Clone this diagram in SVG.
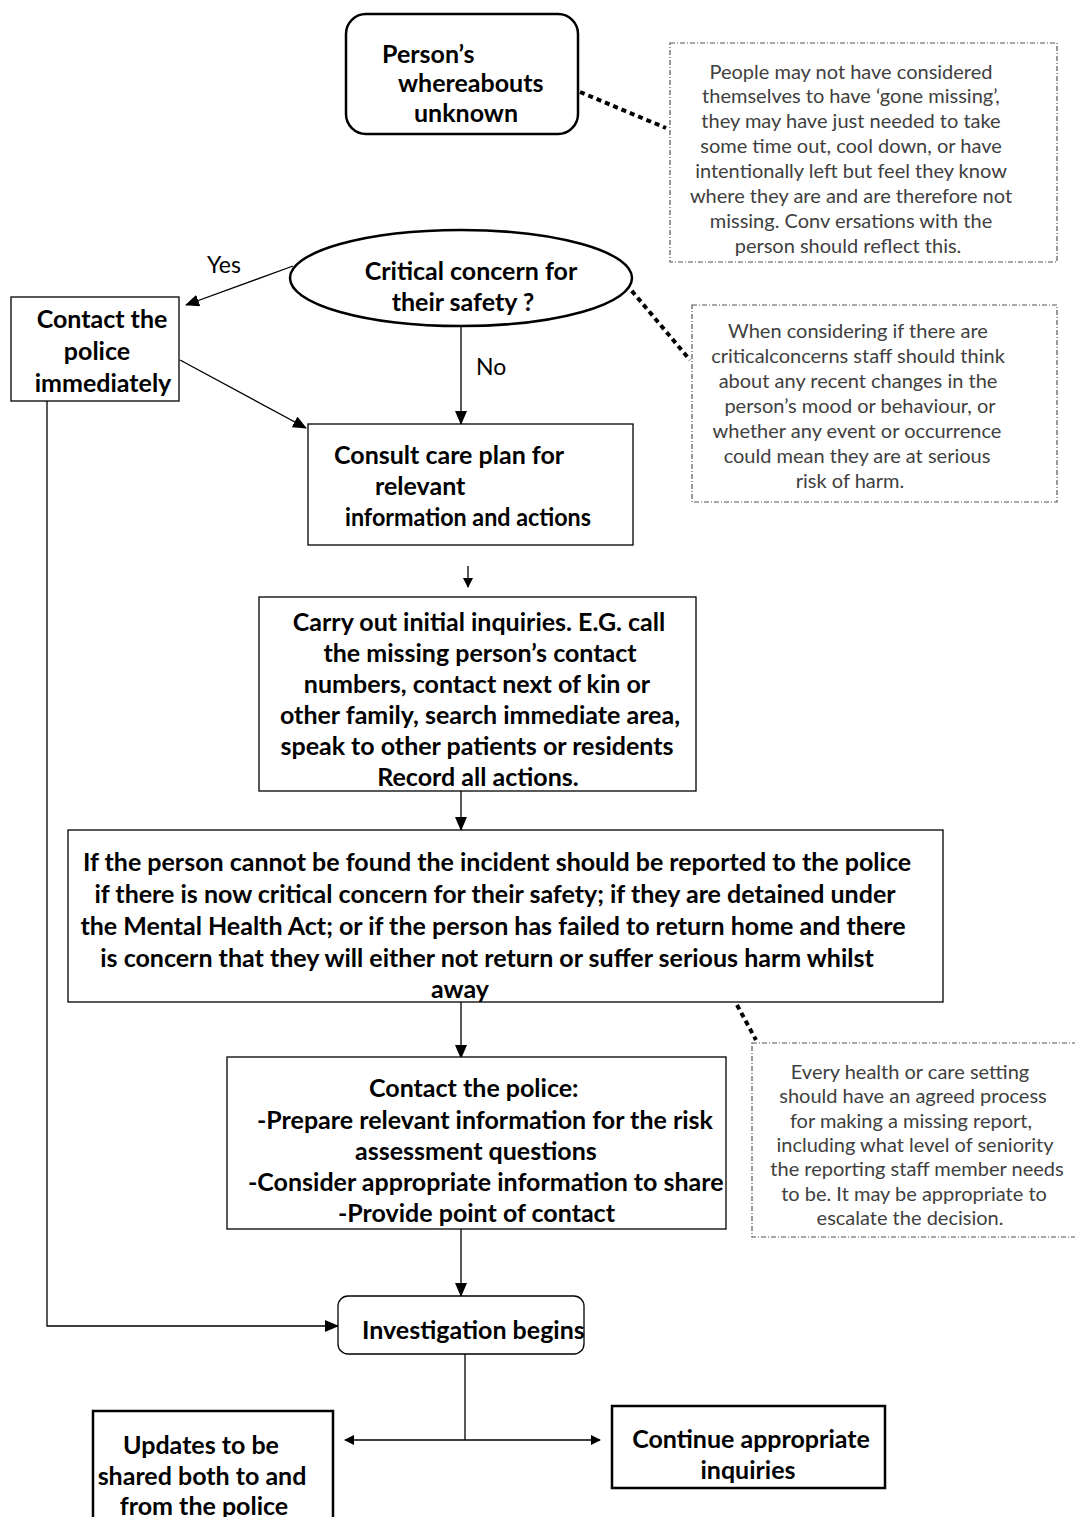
<svg xmlns="http://www.w3.org/2000/svg" width="1075" height="1517" viewBox="0 0 1075 1517">
<defs>
<marker id="ah" markerWidth="14" markerHeight="12" refX="13" refY="6" orient="auto" markerUnits="userSpaceOnUse">
<path d="M0,0 L14,6 L0,12 Z" fill="#000"/>
</marker>
<marker id="ahs" markerWidth="10" markerHeight="10" refX="9" refY="5" orient="auto" markerUnits="userSpaceOnUse">
<path d="M0,0 L10,5 L0,10 Z" fill="#000"/>
</marker>
<marker id="ahsr" markerWidth="10" markerHeight="10" refX="1" refY="5" orient="auto" markerUnits="userSpaceOnUse">
<path d="M10,0 L0,5 L10,10 Z" fill="#000"/>
</marker>
<style>
.b{font-family:Lato,"Liberation Sans",sans-serif;font-weight:bold;font-size:25px;fill:#000}
.n{font-family:Lato,"Liberation Sans",sans-serif;font-size:20px;fill:#404040;text-anchor:middle}
.l{font-family:Lato,"Liberation Sans",sans-serif;font-size:23px;fill:#000}
.box{fill:#fff;stroke:#000;stroke-width:1.3}
.thick{fill:#fff;stroke:#000;stroke-width:2.5}
.note{fill:#fff;stroke:#555;stroke-width:1.2;stroke-dasharray:5 2 1 2}
.c{fill:none;stroke:#000;stroke-width:1.3}
.dot{fill:none;stroke:#000;stroke-width:4;stroke-dasharray:5 4}
.m{text-anchor:middle}
</style>
</defs>

<g id="connectors">
<line class="c" x1="293" y1="266" x2="186" y2="305" marker-end="url(#ah)"/>
<line class="c" x1="180" y1="360" x2="306" y2="428" marker-end="url(#ah)"/>
<line class="c" x1="461" y1="326" x2="461" y2="424" marker-end="url(#ah)"/>
<line class="c" x1="468" y1="566" x2="468" y2="587" marker-end="url(#ahs)"/>
<line class="c" x1="461" y1="791" x2="461" y2="830" marker-end="url(#ah)"/>
<line class="c" x1="461" y1="1002" x2="461" y2="1058" marker-end="url(#ah)"/>
<line class="c" x1="461" y1="1229" x2="461" y2="1296" marker-end="url(#ah)"/>
<polyline class="c" points="47,401 47,1326 338,1326" marker-end="url(#ah)"/>
<line class="c" x1="465" y1="1354" x2="465" y2="1440"/>
<line class="c" x1="345" y1="1440" x2="600" y2="1440" marker-start="url(#ahsr)" marker-end="url(#ahs)"/>
<line class="dot" x1="580" y1="92" x2="666" y2="128"/>
<line class="dot" x1="626" y1="284" x2="690" y2="360"/>
<line class="dot" x1="737" y1="1005" x2="756" y2="1040"/>
</g>

<g id="start">
<rect class="thick" x="346" y="14" width="232" height="120" rx="20"/>
<text class="b" x="382" y="63">Person’s</text>
<text class="b" x="398" y="92">whereabouts</text>
<text class="b" x="414" y="122">unknown</text>
</g>

<g id="note1">
<rect class="note" x="670" y="43" width="387" height="219"/>
<text class="n" x="851" y="79">People may not have considered</text>
<text class="n" x="851" y="103">themselves to have ‘gone missing’,</text>
<text class="n" x="851" y="128">they may have just needed to take</text>
<text class="n" x="851" y="153">some time out, cool down, or have</text>
<text class="n" x="851" y="178">intentionally left but feel they know</text>
<text class="n" x="851" y="203">where they are and are therefore not</text>
<text class="n" x="851" y="228">missing. Conv ersations with the</text>
<text class="n" x="848" y="253">person should reflect this.</text>
</g>

<g id="decision">
<ellipse fill="#fff" stroke="#000" stroke-width="2.5" cx="461" cy="278" rx="171" ry="48"/>
<text class="b m" x="471" y="280">Critical concern for</text>
<text class="b m" x="463" y="311">their safety ?</text>
</g>

<text class="l" x="207" y="273">Yes</text>
<text class="l" x="476" y="375">No</text>

<g id="police-now">
<rect class="box" x="11" y="297" width="168" height="104"/>
<text class="b m" x="102" y="328">Contact the</text>
<text class="b m" x="97" y="360">police</text>
<text class="b m" x="103" y="392">immediately</text>
</g>

<g id="note2">
<rect class="note" x="692" y="305" width="365" height="197"/>
<text class="n" x="858" y="338">When considering if there are</text>
<text class="n" x="858" y="363">criticalconcerns staff should think</text>
<text class="n" x="858" y="388">about any recent changes in the</text>
<text class="n" x="860" y="413">person’s mood or behaviour, or</text>
<text class="n" x="857" y="438">whether any event or occurrence</text>
<text class="n" x="857" y="463">could mean they are at serious</text>
<text class="n" x="850" y="488">risk of harm.</text>
</g>

<g id="consult">
<rect class="box" x="308" y="424" width="325" height="121"/>
<text class="b" x="334" y="464">Consult care plan for</text>
<text class="b" x="375" y="495">relevant</text>
<text class="b" x="345" y="526" textLength="246" lengthAdjust="spacingAndGlyphs">information and actions</text>
</g>

<g id="inquiries">
<rect class="box" x="259" y="597" width="437" height="194"/>
<text class="b m" x="479" y="631">Carry out initial inquiries. E.G. call</text>
<text class="b m" x="480" y="662">the missing person’s contact</text>
<text class="b m" x="477" y="693">numbers, contact next of kin or</text>
<text class="b m" x="480" y="724">other family, search immediate area,</text>
<text class="b m" x="477" y="755">speak to other patients or residents</text>
<text class="b m" x="478" y="786">Record all actions.</text>
</g>

<g id="report">
<rect class="box" x="68" y="830" width="875" height="172"/>
<text class="b m" x="497" y="871">If the person cannot be found the incident should be reported to the police</text>
<text class="b m" x="495" y="903">if there is now critical concern for their safety; if they are detained under</text>
<text class="b m" x="493" y="935">the Mental Health Act; or if the person has failed to return home and there</text>
<text class="b m" x="487" y="967">is concern that they will either not return or suffer serious harm whilst</text>
<text class="b m" x="460" y="998">away</text>
</g>

<g id="note3">
<rect class="note" x="752" y="1043" width="330" height="194"/>
<text class="n" x="910" y="1079">Every health or care setting</text>
<text class="n" x="913" y="1103">should have an agreed process</text>
<text class="n" x="911" y="1128">for making a missing report,</text>
<text class="n" x="915" y="1152">including what level of seniority</text>
<text class="n" x="917" y="1176">the reporting staff member needs</text>
<text class="n" x="914" y="1201">to be. It may be appropriate to</text>
<text class="n" x="910" y="1225">escalate the decision.</text>
</g>

<g id="contact-police">
<rect class="box" x="227" y="1057" width="499" height="172"/>
<text class="b" x="369" y="1097">Contact the police:</text>
<text class="b" x="257" y="1129">-Prepare relevant information for the risk</text>
<text class="b" x="355" y="1160">assessment questions</text>
<text class="b" x="248" y="1191">-Consider appropriate information to share</text>
<text class="b" x="338" y="1222">-Provide point of contact</text>
</g>

<g id="investigation">
<rect class="box" x="338" y="1296" width="246" height="58" rx="10"/>
<text class="b" x="362" y="1339">Investigation begins</text>
</g>

<g id="updates">
<rect class="thick" x="93" y="1411" width="240" height="130"/>
<text class="b m" x="201" y="1454">Updates to be</text>
<text class="b m" x="202" y="1485">shared both to and</text>
<text class="b m" x="204" y="1515">from the police</text>
</g>

<g id="continue">
<rect class="thick" x="612" y="1406" width="273" height="82"/>
<text class="b m" x="751" y="1448">Continue appropriate</text>
<text class="b m" x="748" y="1479">inquiries</text>
</g>
</svg>
